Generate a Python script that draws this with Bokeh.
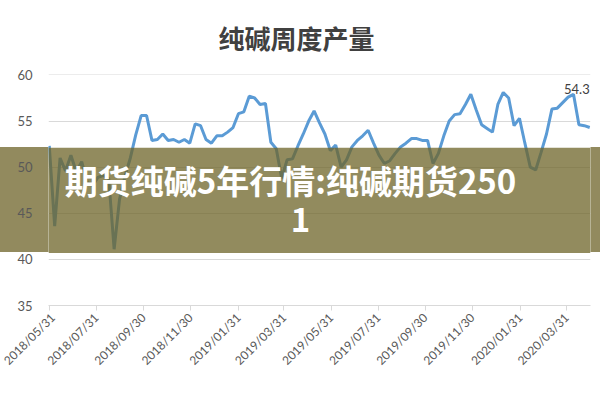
import math
import pandas as pd
from bokeh.plotting import figure
from bokeh.models import Range1d, FixedTicker, DatetimeTickFormatter, Label, BoxAnnotation, ColumnDataSource
from bokeh.embed import file_html
from bokeh.resources import INLINE

# ---- data ----
chart_title = "纯碱周度产量"
banner_line1 = "期货纯碱5年行情:纯碱期货250"
banner_line2 = "1"
start_date = "2018-05-31"
values = [
    52.3, 43.6, 51.0, 49.6, 51.3, 49.5, 50.6, 48.4, 48.0, 48.9,
    49.1, 48.8, 41.1, 46.5, 49.0, 51.0, 53.5, 55.6, 55.6, 52.9,
    53.0, 53.6, 52.9, 53.0, 52.7, 53.0, 52.6, 54.7, 54.5, 53.0,
    52.6, 53.4, 53.4, 53.8, 54.3, 55.8, 56.0, 57.7, 57.5, 56.8,
    56.9, 52.7, 52.0, 48.8, 50.8, 50.9, 52.3, 53.6, 55.0, 56.1,
    54.8, 53.6, 51.8, 52.4, 50.0, 50.8, 52.2, 52.9, 53.4, 54.0,
    52.6, 51.3, 50.4, 50.7, 51.5, 52.2, 52.6, 53.1, 53.1, 52.9,
    52.9, 50.4, 51.5, 53.4, 55.0, 55.7, 55.8, 56.8, 57.9, 56.2,
    54.6, 54.2, 53.8, 56.8, 58.1, 57.5, 54.5, 55.3, 52.6, 50.0,
    49.7, 51.6, 53.6, 56.3, 56.4, 57.0, 57.6, 57.9, 54.6, 54.5,
    54.3,
]
tick_dates = ["2018-05-31", "2018-07-31", "2018-09-30", "2018-11-30",
              "2019-01-31", "2019-03-31", "2019-05-31", "2019-07-31",
              "2019-09-30", "2019-11-30", "2020-01-31", "2020-03-31"]
y_ticks = [35, 40, 45, 50, 55, 60]
last_label = "54.3"

dates = pd.date_range(start_date, periods=len(values), freq="7D")
src = ColumnDataSource(dict(x=dates, y=values))

p = figure(width=600, height=400, x_axis_type="datetime",
           output_backend="svg", toolbar_location=None,
           x_range=Range1d(pd.Timestamp("2018-05-30"), pd.Timestamp("2020-05-01")),
           y_range=Range1d(35, 60.05),
           min_border_left=48, min_border_right=10,
           min_border_top=74, min_border_bottom=95)
p.outline_line_color = None
p.background_fill_color = "white"
p.border_fill_color = None
# banner band behind the side borders (outside the plot frame)
p.styles = {"background": "linear-gradient(to bottom, #ffffff 0px, #ffffff 147px, "
                          "#928a5e 147px, #928a5e 252px, #ffffff 252px, #ffffff 400px)"}

p.title.text = chart_title
p.title.align = "left"
p.title.offset = 170
p.title.vertical_align = "top"
p.title.text_font = "Noto Sans CJK SC"
p.title.text_font_size = "26px"
p.title.text_font_style = "bold"
p.title.text_color = "#404040"
p.title.text_line_height = 1.0
p.title.standoff = 34

p.line("x", "y", source=src, line_color="#5b9bd5", line_width=3)

# axes
p.yaxis.ticker = FixedTicker(ticks=y_ticks)
p.yaxis.axis_line_color = None
p.yaxis.major_tick_line_color = None
p.yaxis.minor_tick_line_color = None
p.yaxis.major_label_text_color = "#595959"
p.yaxis.major_label_text_font = "Lato"
p.yaxis.major_label_text_font_size = "13px"
p.yaxis.major_label_standoff = 10

tick_ms = [pd.Timestamp(d).value // 10**6 for d in tick_dates]
p.xaxis.ticker = FixedTicker(ticks=tick_ms)
fmt = "%Y/%m/%d"
p.xaxis.formatter = DatetimeTickFormatter(days=fmt, months=fmt, years=fmt, hours=fmt,
                                          minutes=fmt, seconds=fmt, milliseconds=fmt)
p.xaxis.axis_line_color = "#d9d9d9"
p.xaxis.major_tick_line_color = "#d9d9d9"
p.xaxis.major_tick_out = 5
p.xaxis.major_tick_in = 0
p.xaxis.minor_tick_line_color = None
p.xaxis.major_label_orientation = math.pi / 4
p.xaxis.major_label_text_color = "#595959"
p.xaxis.major_label_text_font = "Lato"
p.xaxis.major_label_text_font_size = "12px"

p.xgrid.grid_line_color = None
p.ygrid.grid_line_color = "#d9d9d9"
p.ygrid.grid_line_width = 1

# data label of last point
p.add_layout(Label(x=dates[-1], y=values[-1], text=last_label, text_align="right",
                   x_offset=0, y_offset=34, text_font="Lato", text_font_size="13px",
                   text_color="#404040"))

# overlay banner over the plot frame
p.add_layout(BoxAnnotation(top=52.1, bottom=40.7, fill_color="#6e6428", fill_alpha=0.75,
                           line_color=None, level="overlay"))
p.add_layout(Label(x=242, y=48.6, x_units="screen", text=banner_line1, text_align="center",
                   text_baseline="middle", text_font="Noto Sans CJK SC", text_font_size="33px",
                   text_font_style="bold", text_color="white", level="overlay"))
p.add_layout(Label(x=252, y=44.3, x_units="screen", text=banner_line2, text_align="center",
                   text_baseline="middle", text_font="Noto Sans CJK SC", text_font_size="33px",
                   text_font_style="bold", text_color="white", level="overlay"))

open("out.html", "w").write(file_html(p, INLINE))
